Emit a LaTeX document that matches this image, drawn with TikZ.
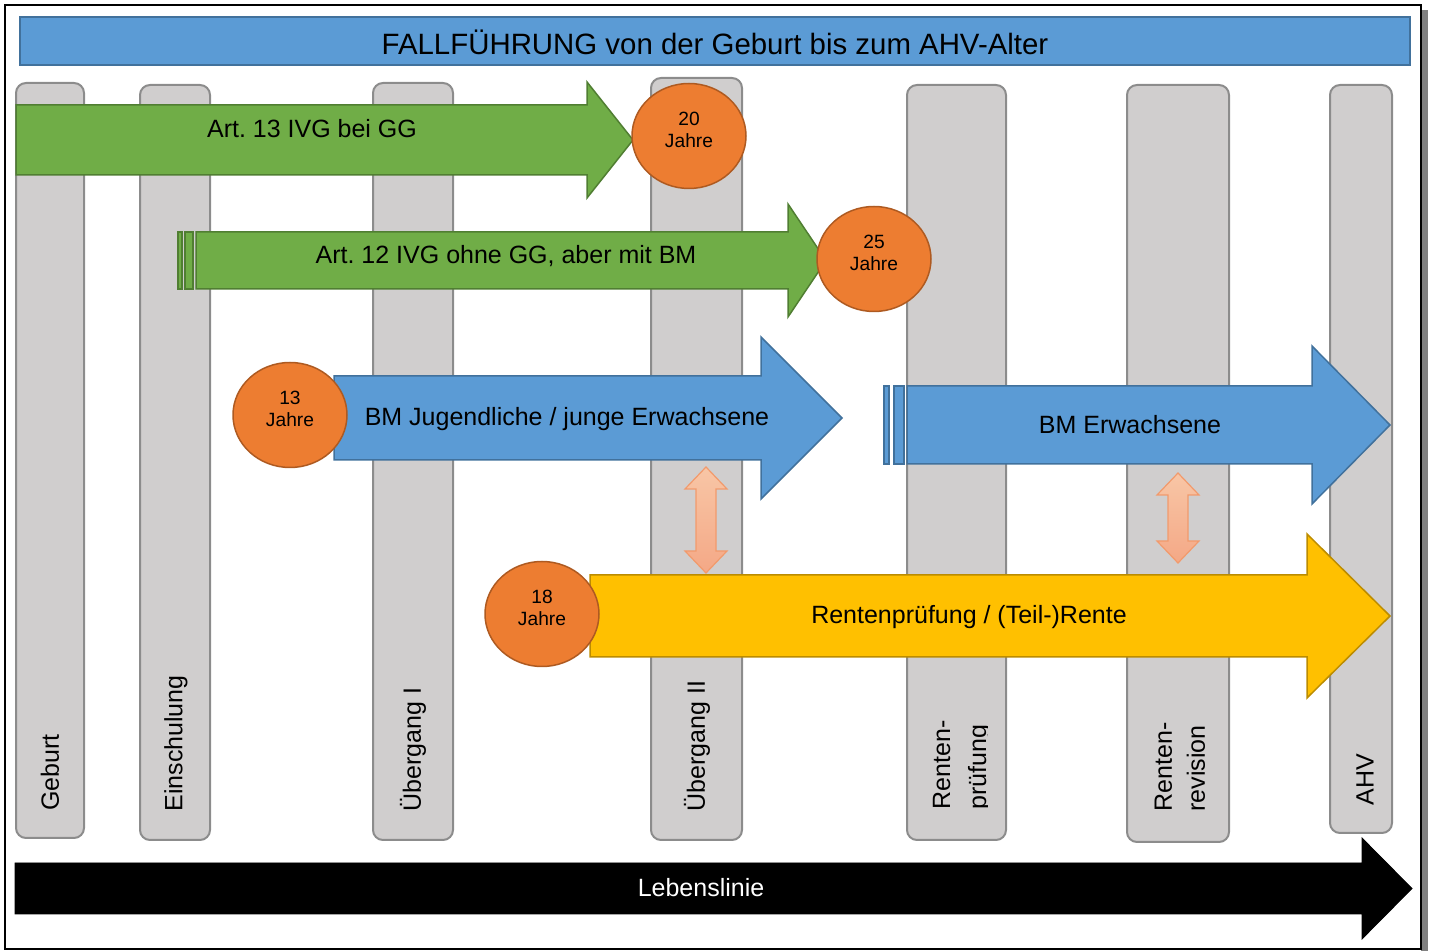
\documentclass[tikz,border=0pt]{standalone}
\usepackage{fontspec}
\setmainfont{Liberation Sans}
\usetikzlibrary{shapes.geometric}
\definecolor{titleblue}{HTML}{5B9BD5}
\definecolor{blueline}{HTML}{41719C}
\definecolor{pillarfill}{HTML}{D0CECE}
\definecolor{pillarline}{HTML}{8C8C8C}
\definecolor{greenfill}{HTML}{70AD47}
\definecolor{greenline}{HTML}{507E32}
\definecolor{yellowfill}{HTML}{FFC000}
\definecolor{yellowline}{HTML}{BC8C00}
\definecolor{orangefill}{HTML}{ED7D31}
\definecolor{orangeline}{HTML}{AE5A21}
\definecolor{salmontop}{HTML}{F8C6A6}
\definecolor{salmonbottom}{HTML}{F4A886}
\definecolor{salmonline}{HTML}{F29A6C}
\definecolor{shadowgray}{HTML}{808080}
\frenchspacing
\newcommand\titlefont{\fontsize{14.7}{17}\selectfont}
\newcommand\labelfont{\fontsize{12.5}{15}\selectfont}
\newcommand\agefont{\fontsize{9.6}{11}\selectfont}
% block arrow: style, x start, x head, y top, y bottom, overhang, x tip
\newcommand\blockarrow[7]{%
  \draw[#1] (#2,#4) -- (#3,#4) -- (#3,#4-#6) -- (#7,{(#4+#5)/2})
    -- (#3,#5+#6) -- (#3,#5) -- (#2,#5) -- cycle;}
% double headed arrow: x, y top, y bottom
\newcommand\updown[3]{%
  \draw[updown] (#1,#2) -- ++(21,22) -- ++(-11,0) -- (#1+10,#3-22) -- ++(11,0)
    -- (#1,#3) -- ++(-21,-22) -- ++(11,0) -- (#1-10,#2+22) -- ++(-11,0) -- cycle;}
\tikzset{
  pillar/.style={draw=pillarline,fill=pillarfill,line width=1pt,rounded corners=5pt},
  pillartext/.style={rotate=90,anchor=west,inner sep=0pt,align=left,font=\labelfont},
  greenarrow/.style={draw=greenline,fill=greenfill,line width=0.75pt},
  bluearrow/.style={draw=blueline,fill=titleblue,line width=0.75pt},
  yellowarrow/.style={draw=yellowline,fill=yellowfill,line width=0.75pt},
  blackarrow/.style={fill=black},
  updown/.style={draw=salmonline,top color=salmontop,bottom color=salmonbottom,line width=0.6pt},
  arrowtext/.style={inner sep=0pt,font=\labelfont},
  agecircle/.style={ellipse,draw=orangeline,fill=orangefill,line width=0.75pt,
    minimum width=57pt,minimum height=52.5pt,inner sep=0pt,align=center,
    text depth=6pt,font=\agefont}
}

\begin{document}
\begin{tikzpicture}[x=0.5pt,y=-0.5pt]
\useasboundingbox (0,0) rectangle (1432,951);
\fill[shadowgray] (1421,10) rectangle (1428,951);
\draw[line width=0.8pt] (5,5) rectangle (1421,949);
\draw[draw=blueline,fill=titleblue,line width=0.75pt] (20,17) rectangle (1410,65);
\node[inner sep=0pt,font=\titlefont] (title) at (715,42) {FALLFÜHRUNG von der Geburt bis zum AHV-Alter};
% pillars
\draw[pillar] (16,83) rectangle (84,838);
\draw[pillar] (140,85) rectangle (210,840);
\draw[pillar] (373,83) rectangle (453,840);
\draw[pillar] (651,78) rectangle (742,840);
\draw[pillar] (907,85) rectangle (1006,840);
\draw[pillar] (1127,85) rectangle (1229,842);
\draw[pillar] (1330,85) rectangle (1392,833);
\node[pillartext] (geburt) at (50,811) {Geburt};
\node[pillartext] (einschulung) at (176,812) {Einschulung};
\node[pillartext] (uebergangI) at (413,812) {Übergang I};
\node[pillartext] (uebergangII) at (697,812) {Übergang II};
\begin{scope}
\clip (900,600) rectangle (987,840);
\node[pillartext] (rentenpruefung) at (962,810) {Renten-\\[3pt]prüfung};
\end{scope}
\node[pillartext] (rentenrevision) at (1180,812) {Renten-\\[1.5pt]revision};
\node[pillartext] (ahv) at (1365,806) {AHV};
% arrows
\blockarrow{greenarrow}{16}{587}{105}{175}{23}{633}
\node[arrowtext] (art13) at (312,129) {Art. 13 IVG bei GG};
\draw[greenarrow] (178,232) rectangle (182,289);
\draw[greenarrow] (185,232) rectangle (193,289);
\blockarrow{greenarrow}{196}{788}{232}{289}{28}{826}
\node[arrowtext] (art12) at (506,256) {Art. 12 IVG ohne GG, aber mit BM};
\blockarrow{bluearrow}{334}{761}{376}{460}{39}{842}
\node[arrowtext] (bmjung) at (567,419) {BM Jugendliche / junge Erwachsene};
\draw[bluearrow] (884,386) rectangle (889,464);
\draw[bluearrow] (894,386) rectangle (904,464);
\blockarrow{bluearrow}{907}{1312}{386}{464}{40}{1390}
\node[arrowtext] (bmerw) at (1130,425) {BM Erwachsene};
\updown{706}{467}{573}
\updown{1178}{473}{563}
\blockarrow{yellowarrow}{590}{1307}{575}{657}{41}{1390}
\node[arrowtext] (rente) at (969,617) {Rentenprüfung / (Teil-)Rente};
\blockarrow{blackarrow}{15}{1362}{863}{914}{25}{1412}
\node[arrowtext,text=white] (leben) at (701,888) {Lebenslinie};
% ages
\node[agecircle] (age20) at (689,136) {20\\Jahre};
\node[agecircle] (age25) at (874,259) {25\\Jahre};
\node[agecircle] (age13) at (290,415) {13\\Jahre};
\node[agecircle] (age18) at (542,614) {18\\Jahre};
\end{tikzpicture}
\end{document}
